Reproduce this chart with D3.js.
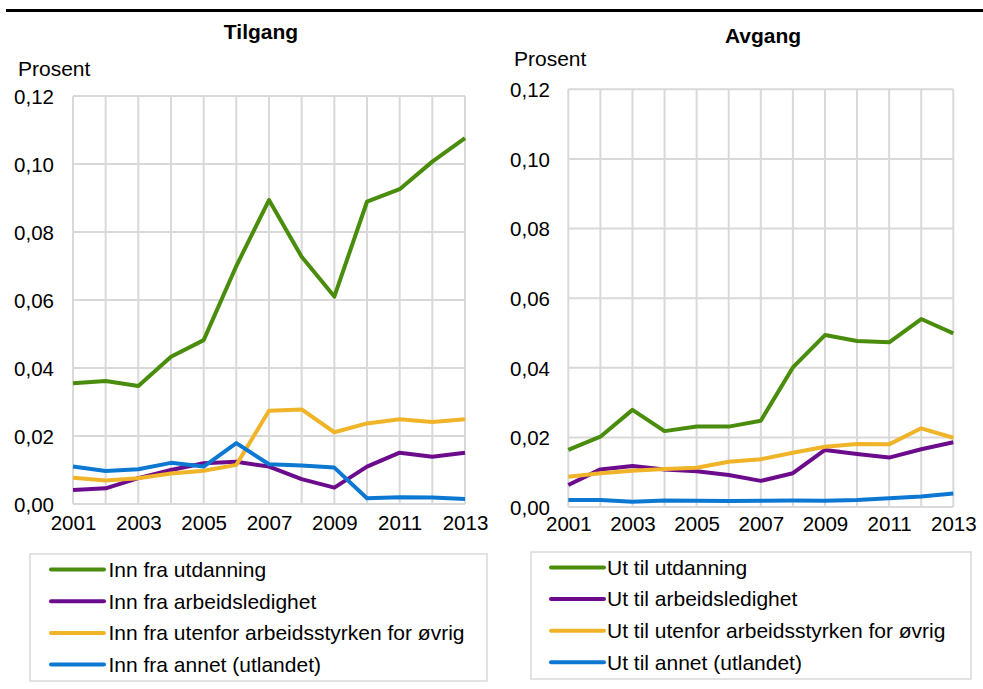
<!DOCTYPE html>
<html><head><meta charset="utf-8">
<script src="https://cdn.jsdelivr.net/npm/d3@7"></script>
<style>body{margin:0;background:#fff}svg{display:block}text{font-family:"Liberation Sans",Arial,sans-serif;fill:#000}</style>
</head><body><svg id="c" width="983" height="689"></svg>
<script>
const years = [2001,2002,2003,2004,2005,2006,2007,2008,2009,2010,2011,2012,2013];
const yTicks = [0,0.02,0.04,0.06,0.08,0.10,0.12];
const xTickLabels = [2001,2003,2005,2007,2009,2011,2013];
const colors = ["#4a8c0c","#6c0c8c","#f0b428","#0c78d2"];

const tilgangNames = ["Inn fra utdanning","Inn fra arbeidsledighet","Inn fra utenfor arbeidsstyrken for øvrig","Inn fra annet (utlandet)"];
const tilgangUtdanning = [0.0355,0.0362,0.0347,0.0433,0.0482,0.0700,0.0894,0.0727,0.0610,0.0889,0.0926,0.1007,0.1076];
const tilgangLedighet  = [0.0041,0.0046,0.0076,0.0100,0.0120,0.0124,0.0110,0.0073,0.0048,0.0110,0.0151,0.0139,0.0151];
const tilgangUtenfor   = [0.0077,0.0069,0.0076,0.0090,0.0098,0.0115,0.0274,0.0278,0.0211,0.0237,0.0249,0.0241,0.0249];
const tilgangAnnet     = [0.0110,0.0097,0.0102,0.0121,0.0110,0.0179,0.0117,0.0113,0.0107,0.0017,0.0020,0.0019,0.0015];

const avgangNames = ["Ut til utdanning","Ut til arbeidsledighet","Ut til utenfor arbeidsstyrken for øvrig","Ut til annet (utlandet)"];
const avgangUtdanning = [0.0164,0.0202,0.0279,0.0218,0.0231,0.0231,0.0248,0.0401,0.0494,0.0477,0.0473,0.0540,0.0499];
const avgangLedighet  = [0.0063,0.0108,0.0118,0.0108,0.0103,0.0092,0.0075,0.0097,0.0164,0.0152,0.0142,0.0166,0.0186];
const avgangUtenfor   = [0.0087,0.0097,0.0104,0.0109,0.0113,0.0130,0.0137,0.0156,0.0173,0.0181,0.0180,0.0226,0.0199];
const avgangAnnet     = [0.0020,0.0020,0.0015,0.0019,0.0018,0.0017,0.0018,0.0019,0.0018,0.0020,0.0025,0.0030,0.0039];

const svg = d3.select("#c");
const fmt = d => d3.format(".2f")(d).replace(".", ",");

svg.append("line").attr("x1",6).attr("x2",983).attr("y1",10.5).attr("y2",10.5)
  .attr("stroke","#000").attr("stroke-width",3);

function panel(o){
  const x = d3.scaleLinear().domain([2001,2013]).range([o.x0,o.x1]);
  const y = d3.scaleLinear().domain([0,0.12]).range([o.y0,o.y1]);
  const g = svg.append("g");
  g.selectAll("line.h").data(yTicks).join("line").attr("class","h")
    .attr("x1",o.x0).attr("x2",o.x1).attr("y1",d=>y(d)).attr("y2",d=>y(d))
    .attr("stroke","#d9d9d9").attr("stroke-width",2);
  g.selectAll("line.v").data(years).join("line").attr("class","v")
    .attr("y1",o.y0).attr("y2",o.y1).attr("x1",d=>x(d)).attr("x2",d=>x(d))
    .attr("stroke","#d9d9d9").attr("stroke-width",2);
  const ya = g.append("g").attr("transform",`translate(${o.x0},0)`)
    .call(d3.axisLeft(y).tickValues(yTicks).tickFormat(fmt).tickSize(0).tickPadding(o.x0-o.labR));
  ya.select(".domain").remove();
  ya.selectAll("text").attr("font-size",20.5).attr("font-family","Liberation Sans, Arial, sans-serif").attr("fill","#000").attr("dy","0.36em");
  const xa = g.append("g").attr("transform",`translate(0,${o.y0})`)
    .call(d3.axisBottom(x).tickValues(xTickLabels).tickFormat(d3.format("d")).tickSize(0).tickPadding(0));
  xa.select(".domain").remove();
  xa.selectAll("text").attr("font-size",20.5).attr("font-family","Liberation Sans, Arial, sans-serif").attr("fill","#000").attr("dy",null).attr("y",o.xLabBase-o.y0);
  g.append("text").attr("x",o.tx).attr("y",o.ty).attr("text-anchor","middle")
    .attr("font-weight","bold").attr("font-size",21).text(o.title);
  g.append("text").attr("x",o.px).attr("y",o.py).attr("font-size",21).text("Prosent");
  const line = d3.line().x((d,i)=>x(years[i])).y(d=>y(d));
  g.selectAll("path.s").data(o.series).join("path").attr("class","s")
    .attr("d",d=>line(d)).attr("fill","none")
    .attr("stroke",(d,i)=>colors[i]).attr("stroke-width",4).attr("stroke-linejoin","round");
  const L = o.leg;
  g.append("rect").attr("x",L.x).attr("y",L.y).attr("width",L.w).attr("height",L.h)
    .attr("fill","#fff").attr("stroke","#d9d9d9").attr("stroke-width",1.5);
  const items = g.selectAll("g.li").data(o.names).join("g").attr("class","li")
    .attr("transform",(d,i)=>`translate(0,${L.r0+i*L.dy})`);
  items.append("line").attr("x1",L.lx0).attr("x2",L.lx1).attr("y1",0).attr("y2",0)
    .attr("stroke",(d,i)=>colors[i]).attr("stroke-width",4).attr("stroke-linecap","round");
  items.append("text").attr("x",L.tx).attr("y",0).attr("dy","0.35em").attr("font-size",21).text(d=>d);
}

panel({x0:73,x1:465,y0:504,y1:96,labR:54,xLabBase:530,title:"Tilgang",tx:261,ty:39,px:18,py:75.5,
  series:[tilgangUtdanning,tilgangLedighet,tilgangUtenfor,tilgangAnnet],names:tilgangNames,
  leg:{x:30,y:554,w:457,h:127,r0:569.5,dy:31.7,lx0:51,lx1:104,tx:108.5}});
panel({x0:568.3,x1:953.3,y0:507,y1:89.3,labR:550,xLabBase:530.5,title:"Avgang",tx:763,ty:43,px:514,py:66,
  series:[avgangUtdanning,avgangLedighet,avgangUtenfor,avgangAnnet],names:avgangNames,
  leg:{x:531,y:552,w:440,h:127,r0:567.5,dy:31.6,lx0:551,lx1:604,tx:607}});
</script></body></html>
